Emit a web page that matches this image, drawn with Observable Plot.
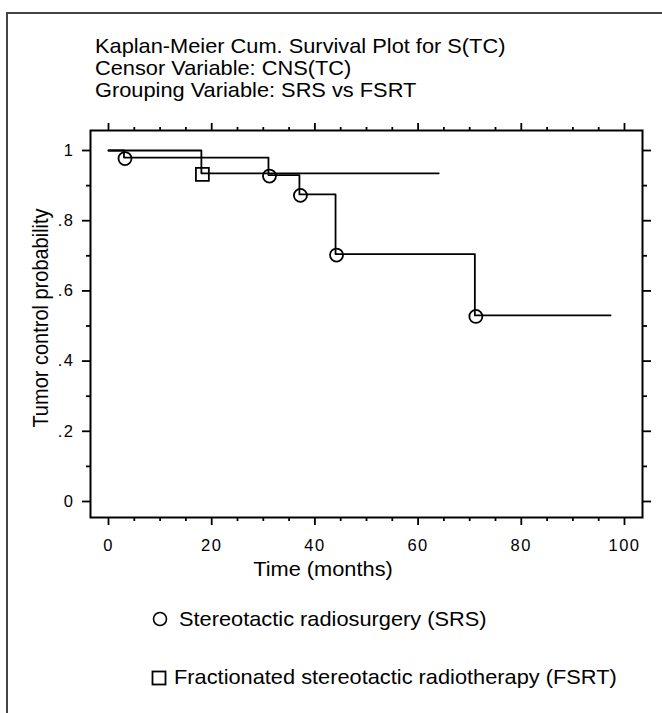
<!DOCTYPE html>
<html>
<head>
<meta charset="utf-8">
<script src="https://cdn.jsdelivr.net/npm/d3@7"></script>
<script src="https://cdn.jsdelivr.net/npm/@observablehq/plot@0.6"></script>
<style>
  html, body { margin: 0; padding: 0; background: #fff; overflow: hidden; }
  #wrap { position: relative; width: 662px; height: 713px; overflow: hidden; background: #fff; }
  #wrap > svg { position: absolute; left: 0; top: 0; }
</style>
</head>
<body>
<div id="wrap"></div>
<script>
// ---- data ----
const srsTime = [0, 3, 31, 37, 44, 71, 97.3];
const srsSurv = [1, 0.98, 0.93, 0.875, 0.705, 0.53, 0.53];
const srsEventTime = [3, 31, 37, 44, 71];
const srsEventSurv = [0.98, 0.93, 0.875, 0.705, 0.53];

const fsrtTime = [0, 18, 64];
const fsrtSurv = [1, 0.935, 0.935];
const fsrtEventTime = [18];
const fsrtEventSurv = [0.935];

const xMajor = [0, 20, 40, 60, 80, 100];
const xMinor = [5, 10, 15, 25, 30, 35, 45, 50, 55, 65, 70, 75, 85, 90, 95];
const yMajor = [0, 0.2, 0.4, 0.6, 0.8, 1];
const yMinor = [0.1, 0.3, 0.5, 0.7, 0.9];
const yTickLabels = ["0", ".2", ".4", ".6", ".8", "1"];

const titleLines = [
  "Kaplan-Meier Cum. Survival Plot for S(TC)",
  "Censor Variable: CNS(TC)",
  "Grouping Variable: SRS vs FSRT"
];
const xTitle = "Time (months)";
const yTitle = "Tumor control probability";
const legendLabels = [
  "Stereotactic radiosurgery (SRS)",
  "Fractionated stereotactic radiotherapy (FSRT)"
];

// ---- tables ----
const srs = srsTime.map((t, i) => ({t, s: srsSurv[i]}));
const fsrt = fsrtTime.map((t, i) => ({t, s: fsrtSurv[i]}));
const srsEvents = srsEventTime.map((t, i) => ({t, s: srsEventSurv[i]}));
const fsrtEvents = fsrtEventTime.map((t, i) => ({t, s: fsrtEventSurv[i]}));

const FONT = "'Liberation Sans', Arial, Helvetica, sans-serif";
const SW = 1.8;

const chart = Plot.plot({
  width: 662,
  height: 600,
  marginLeft: 90,
  marginRight: 20,
  marginTop: 130,
  marginBottom: 83,
  x: {domain: [-3.49, 103.49], label: null},
  y: {domain: [-0.0456, 1.057], label: null},
  style: {fontFamily: FONT, fontSize: "16.5px", color: "black", background: "transparent", letterSpacing: "1.5px"},
  marks: [
    Plot.axisX(xMajor, {anchor: "bottom", tickSize: 8, tickPadding: 14, strokeWidth: SW, tickFormat: d => String(d), label: null}),
    Plot.axisX(xMinor, {anchor: "bottom", tickSize: 4, strokeWidth: SW, tickFormat: () => "", label: null}),
    Plot.axisX(xMajor, {anchor: "top", tickSize: 8, strokeWidth: SW, tickFormat: () => "", label: null}),
    Plot.axisX(xMinor, {anchor: "top", tickSize: 4, strokeWidth: SW, tickFormat: () => "", label: null}),
    Plot.axisY(yMajor, {anchor: "left", tickSize: 8, tickPadding: 8, strokeWidth: SW, tickFormat: d => yTickLabels[yMajor.indexOf(d)], label: null}),
    Plot.axisY(yMinor, {anchor: "left", tickSize: 4, strokeWidth: SW, tickFormat: () => "", label: null}),
    Plot.axisY(yMajor, {anchor: "right", tickSize: 8, strokeWidth: SW, tickFormat: () => "", label: null}),
    Plot.axisY(yMinor, {anchor: "right", tickSize: 4, strokeWidth: SW, tickFormat: () => "", label: null}),
    Plot.frame({stroke: "black", strokeWidth: 2}),
    Plot.line(fsrt, {x: "t", y: "s", curve: "step-after", stroke: "black", strokeWidth: SW}),
    Plot.line(srs, {x: "t", y: "s", curve: "step-after", stroke: "black", strokeWidth: SW}),
    Plot.dot(srsEvents, {x: "t", y: "s", r: 6.5, symbol: "circle", stroke: "black", strokeWidth: SW, fill: "none", dx: 1, dy: 1}),
    Plot.dot(fsrtEvents, {x: "t", y: "s", r: 7.3, symbol: "square", stroke: "black", strokeWidth: SW, fill: "none", dx: 1, dy: 1})
  ]
});

const wrap = document.getElementById("wrap");
wrap.appendChild(chart);

// ---- overlay: border, titles, legend ----
const ov = d3.select(wrap).append("svg")
  .attr("width", 662).attr("height", 713)
  .style("font-family", FONT);

ov.append("path")
  .attr("d", "M7,713V13H662")
  .attr("fill", "none").attr("stroke", "#444").attr("stroke-width", 2);

const SX = 1.09;
const titleBase = [53, 75, 97];
titleLines.forEach((t, i) => {
  ov.append("text")
    .attr("transform", `translate(95,${titleBase[i]}) scale(${SX},1)`)
    .attr("font-size", 20).attr("fill", "black")
    .text(t);
});

ov.append("text")
  .attr("transform", `translate(323,576) scale(${SX},1)`)
  .attr("text-anchor", "middle")
  .attr("font-size", 20).attr("fill", "black")
  .text(xTitle);

ov.append("text")
  .attr("transform", `translate(48,318) rotate(-90) scale(1,${SX})`)
  .attr("text-anchor", "middle")
  .attr("font-size", 20).attr("fill", "black")
  .text(yTitle);

// legend
ov.append("circle").attr("cx", 160).attr("cy", 619).attr("r", 6.5)
  .attr("fill", "none").attr("stroke", "black").attr("stroke-width", 1.6);
ov.append("text")
  .attr("transform", `translate(179,626) scale(${SX},1)`)
  .attr("font-size", 20).attr("fill", "black")
  .text(legendLabels[0]);

ov.append("rect").attr("x", 152.5).attr("y", 671.5).attr("width", 13).attr("height", 13)
  .attr("fill", "none").attr("stroke", "black").attr("stroke-width", 1.8);
ov.append("text")
  .attr("transform", `translate(174,684) scale(${SX},1)`)
  .attr("font-size", 20).attr("fill", "black")
  .text(legendLabels[1]);
</script>
</body>
</html>
